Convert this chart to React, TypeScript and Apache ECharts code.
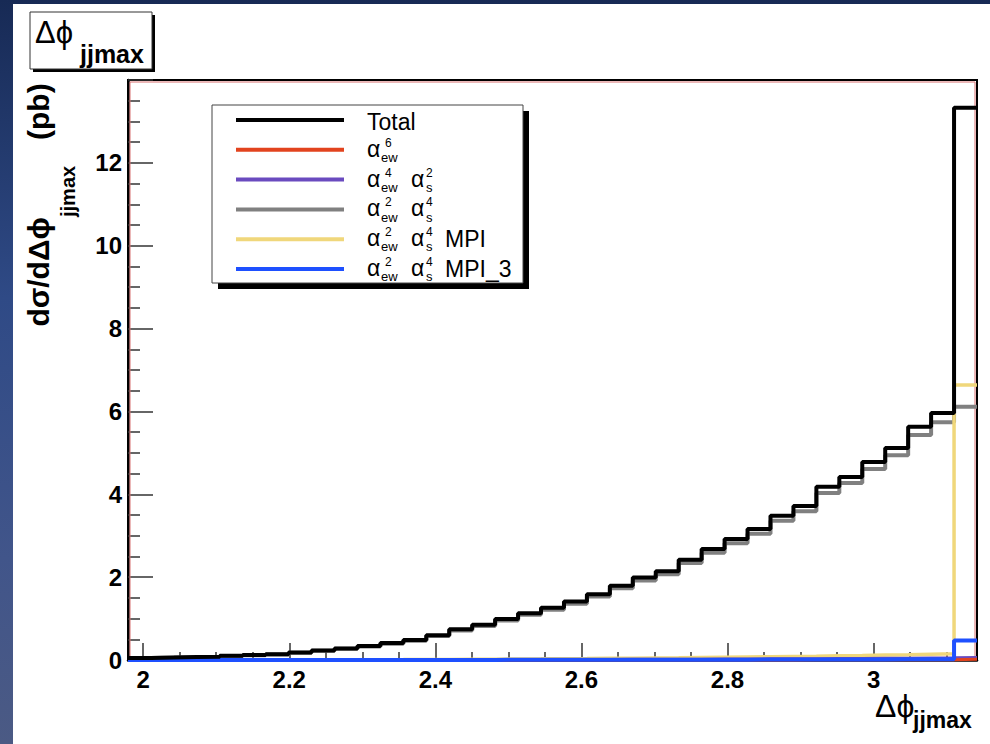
import React, { useEffect, useRef } from "react";
import * as echarts from "echarts";

// Histogram binning: 100 bins over [0, π]; the visible range starts at bin 63
const FIRST_BIN = 63;
const BINS_OVER_PI = 100;

// Bin contents (pb), bins 63..99
const total = [0.05, 0.06, 0.07, 0.08, 0.10, 0.12, 0.14, 0.18, 0.23, 0.28, 0.34, 0.41, 0.48, 0.60, 0.74, 0.85, 0.99, 1.13, 1.26, 1.41, 1.59, 1.79, 1.99, 2.14, 2.42, 2.68, 2.92, 3.16, 3.48, 3.72, 4.18, 4.42, 4.78, 5.12, 5.63, 5.96, 13.33];
const alphaEw6 = [0.0001, 0.0001, 0.0001, 0.0001, 0.0002, 0.0002, 0.0002, 0.0003, 0.0003, 0.0004, 0.0004, 0.0005, 0.0006, 0.0007, 0.0008, 0.0009, 0.001, 0.0011, 0.0012, 0.0013, 0.0015, 0.0016, 0.0018, 0.002, 0.0022, 0.0024, 0.0026, 0.0028, 0.003, 0.0032, 0.0035, 0.0037, 0.004, 0.0043, 0.0047, 0.005, 0.02];
const alphaEw4As2 = [0.0003, 0.0004, 0.0005, 0.0006, 0.0008, 0.001, 0.001, 0.0015, 0.002, 0.002, 0.003, 0.004, 0.004, 0.005, 0.007, 0.008, 0.009, 0.010, 0.011, 0.013, 0.014, 0.016, 0.018, 0.019, 0.021, 0.023, 0.025, 0.028, 0.030, 0.032, 0.036, 0.038, 0.042, 0.045, 0.050, 0.053, 0.06];
const alphaEw2As4 = [0.049, 0.058, 0.068, 0.078, 0.096, 0.116, 0.135, 0.173, 0.222, 0.270, 0.327, 0.395, 0.463, 0.579, 0.714, 0.820, 0.955, 1.09, 1.215, 1.36, 1.535, 1.73, 1.92, 2.07, 2.34, 2.59, 2.82, 3.05, 3.36, 3.59, 4.03, 4.27, 4.61, 4.94, 5.43, 5.74, 6.11];
const alphaEw2As4MPI = [0.001, 0.002, 0.002, 0.002, 0.003, 0.003, 0.004, 0.005, 0.006, 0.007, 0.009, 0.010, 0.012, 0.015, 0.018, 0.021, 0.025, 0.028, 0.032, 0.035, 0.040, 0.045, 0.050, 0.054, 0.061, 0.067, 0.073, 0.079, 0.087, 0.093, 0.105, 0.110, 0.120, 0.128, 0.141, 0.149, 6.64];
const alphaEw2As4MPI3 = [0.0002, 0.0002, 0.0003, 0.0003, 0.0004, 0.0005, 0.0006, 0.0007, 0.0009, 0.001, 0.0012, 0.0014, 0.0016, 0.002, 0.0024, 0.0028, 0.0032, 0.0036, 0.004, 0.0045, 0.005, 0.0056, 0.0062, 0.0068, 0.0075, 0.0082, 0.009, 0.0098, 0.0108, 0.0116, 0.013, 0.0137, 0.015, 0.016, 0.0175, 0.0185, 0.47];

const xMajorTicks = [2, 2.2, 2.4, 2.6, 2.8, 3];
const xMinorTicks = [2.05, 2.1, 2.15, 2.25, 2.3, 2.35, 2.45, 2.5, 2.55, 2.65, 2.7, 2.75, 2.85, 2.9, 2.95, 3.05, 3.1];

const FONT = "'Liberation Sans', Arial, Helvetica, 'DejaVu Sans', sans-serif";
const PHI = "\u03d5";

const binEdges = Array.from({ length: total.length + 1 }, (_, i) => ((FIRST_BIN + i) * Math.PI) / BINS_OVER_PI);

function histSeries(name: string, values: number[], color: string, width: number, z: number) {
  const data: number[][] = values.map((v, i) => [binEdges[i], v]);
  data.push([binEdges[values.length], values[values.length - 1]]);
  return {
    type: "line",
    name,
    step: "end",
    symbol: "none",
    clip: false,
    silent: true,
    z,
    xAxisIndex: 0,
    yAxisIndex: 0,
    lineStyle: { color, width },
    data,
  };
}

function txt(text: string, x: number, y: number, size: number, bold = false, align = "left") {
  return {
    type: "text",
    x,
    y,
    z: 30,
    silent: true,
    style: {
      text,
      fontSize: size,
      fontWeight: bold ? "bold" : "normal",
      fontFamily: FONT,
      fill: "#000",
      align,
      verticalAlign: "middle",
    },
  };
}

const legendRows = [
  { color: "#000000", ew: "", s: "", suffix: "Total" },
  { color: "#e2431e", ew: "6", s: "", suffix: "" },
  { color: "#6a4bbf", ew: "4", s: "2", suffix: "" },
  { color: "#808080", ew: "2", s: "4", suffix: "" },
  { color: "#f0d77b", ew: "2", s: "4", suffix: "MPI" },
  { color: "#1e50ff", ew: "2", s: "4", suffix: "MPI_3" },
];

function buildLegend() {
  const els: any[] = [];
  els.push({ type: "rect", z: 25, silent: true, shape: { x: 218, y: 111, width: 311, height: 178 }, style: { fill: "#000" } });
  els.push({ type: "rect", z: 26, silent: true, shape: { x: 212, y: 105, width: 311, height: 178 }, style: { fill: "#fff", stroke: "#444", lineWidth: 1 } });
  legendRows.forEach((r, i) => {
    const y = 120 + i * 29.8;
    els.push({ type: "line", z: 27, silent: true, shape: { x1: 236, y1: y, x2: 344, y2: y }, style: { stroke: r.color, lineWidth: 4 } });
    if (!r.ew) {
      els.push(txt(r.suffix, 367, y + 1.5, 23));
      return;
    }
    els.push(txt("α", 367, y - 1, 23));
    els.push(txt(r.ew, 385, y - 7, 12));
    els.push(txt("ew", 381, y + 7.6, 13));
    if (r.s) {
      els.push(txt("α", 411, y - 1, 23));
      els.push(txt(r.s, 426, y - 7, 12));
      els.push(txt("s", 426, y + 7.6, 13));
    }
    if (r.suffix) els.push(txt(r.suffix, 445, y, 23));
  });
  return els;
}

const graphics: any[] = [
  // inner red frame line
  { type: "rect", z: 1, silent: true, shape: { x: 130, y: 82, width: 845, height: 577 }, style: { fill: "none", stroke: "#d87070", lineWidth: 1 } },
  // title box
  { type: "rect", z: 25, silent: true, shape: { x: 33, y: 15, width: 122, height: 57 }, style: { fill: "#000" } },
  { type: "rect", z: 26, silent: true, shape: { x: 30, y: 12, width: 122, height: 57 }, style: { fill: "#fff", stroke: "#333", lineWidth: 1 } },
  txt("Δ" + PHI, 35, 32, 31),
  txt("jjmax", 80, 54, 25, true),
  // x-axis title
  txt("Δ" + PHI, 875, 706, 32),
  txt("jjmax", 913, 720, 23, true),
  // y-axis title (rotated)
  {
    type: "group",
    x: 38,
    y: 320,
    rotation: Math.PI / 2,
    silent: true,
    children: [
      txt("dσ/dΔ" + PHI, 103, 0, 30, true, "right"),
      txt("jjmax", 103, 30, 20, true),
      txt("(pb)", 180, 0, 30, true),
    ],
  },
  ...buildLegend(),
];

const option: any = {
  animation: false,
  backgroundColor: "transparent",
  textStyle: { fontFamily: FONT },
  grid: { left: 128, right: 13, top: 80, bottom: 84, show: true, borderColor: "#000", borderWidth: 2, backgroundColor: "transparent" },
  xAxis: [
    {
      type: "value",
      position: "bottom",
      min: binEdges[0],
      max: binEdges[binEdges.length - 1],
      axisLine: { show: true, onZero: false, lineStyle: { color: "#000", width: 2.5 } },
      axisTick: { show: true, inside: true, length: 17, customValues: xMajorTicks, lineStyle: { color: "#333", width: 1.5 } },
      axisLabel: { show: true, customValues: xMajorTicks, margin: 7, fontSize: 24, fontWeight: "bold", color: "#000", fontFamily: FONT },
      splitLine: { show: false },
    },
    {
      type: "value",
      position: "bottom",
      min: binEdges[0],
      max: binEdges[binEdges.length - 1],
      axisLine: { show: false },
      axisTick: { show: true, inside: true, length: 8, customValues: xMinorTicks, lineStyle: { color: "#333", width: 1.5 } },
      axisLabel: { show: false },
      splitLine: { show: false },
    },
  ],
  yAxis: {
    type: "value",
    min: 0,
    max: 14,
    interval: 2,
    axisLine: { show: true, onZero: false, lineStyle: { color: "#000", width: 2.5 } },
    axisTick: { show: true, inside: true, length: 25, lineStyle: { color: "#333", width: 1.5 } },
    minorTick: { show: true, splitNumber: 4, length: 12, lineStyle: { color: "#333", width: 1.5 } },
    axisLabel: { show: true, margin: 6, fontSize: 24, fontWeight: "bold", color: "#000", fontFamily: FONT, showMaxLabel: false },
    splitLine: { show: false },
    minorSplitLine: { show: false },
  },
  series: [
    histSeries("α_ew^2 α_s^4", alphaEw2As4, "#808080", 4, 2),
    histSeries("α_ew^2 α_s^4 MPI", alphaEw2As4MPI, "#f0d77b", 3.5, 3),
    histSeries("α_ew^4 α_s^2", alphaEw4As2, "#6a4bbf", 3, 4),
    histSeries("α_ew^6", alphaEw6, "#e2431e", 3, 5),
    histSeries("α_ew^2 α_s^4 MPI_3", alphaEw2As4MPI3, "#1e50ff", 4, 6),
    histSeries("Total", total, "#000000", 4, 7),
  ],
  graphic: { elements: graphics },
};

export default function App() {
  const ref = useRef<HTMLDivElement>(null);
  useEffect(() => {
    document.body.style.margin = "0";
    const chart = echarts.init(ref.current as HTMLDivElement, null, { renderer: "svg" });
    chart.setOption(option);
    return () => chart.dispose();
  }, []);
  return (
    <div
      style={{
        position: "fixed",
        left: 0,
        top: 0,
        width: 990,
        height: 744,
        overflow: "hidden",
        background: "linear-gradient(180deg, #172a55 0%, #2f4a86 40%, #41558a 75%, #4b5a84 100%)",
      }}
    >
      <div style={{ position: "absolute", left: 13, top: 4, width: 977, height: 740, background: "#ffffff" }} />
      <div ref={ref} style={{ position: "absolute", left: 0, top: 0, width: 990, height: 744 }} />
    </div>
  );
}
